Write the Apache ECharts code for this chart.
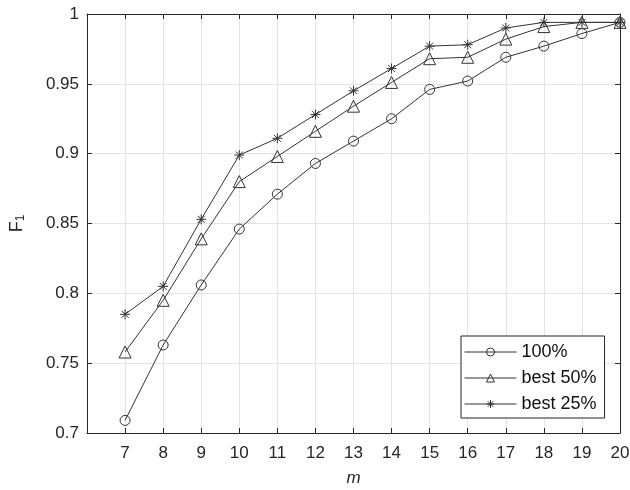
<!DOCTYPE html>
<html>
<head>
<meta charset="utf-8">
<script src="https://cdn.jsdelivr.net/npm/echarts@6/dist/echarts.min.js"></script>
<style>html,body{margin:0;padding:0;background:#fff}#c{width:630px;height:490px}</style>
</head>
<body>
<div id="c"></div>
<script>
var mValues = [7, 8, 9, 10, 11, 12, 13, 14, 15, 16, 17, 18, 19, 20];
var all100 = [0.709, 0.763, 0.806, 0.846, 0.871, 0.893, 0.909, 0.925, 0.946, 0.952, 0.969, 0.977, 0.986, 0.994];
var best50 = [0.758, 0.795, 0.839, 0.880, 0.898, 0.916, 0.934, 0.951, 0.968, 0.969, 0.982, 0.991, 0.994, 0.994];
var best25 = [0.785, 0.805, 0.853, 0.899, 0.911, 0.928, 0.945, 0.961, 0.977, 0.978, 0.990, 0.994, 0.994, 0.994];
var seriesNames = ['100%', 'best 50%', 'best 25%'];
var yTicks = [0.7, 0.75, 0.8, 0.85, 0.9, 0.95, 1];

function pairs(vals) { return mValues.map(function (m, i) { return [m, vals[i]]; }); }

var axisColor = '#262626';
var lineColor = '#333333';
var asterisk = 'path://M0,-10L0,10M-10,0L10,0M-7,-7L7,7M-7,7L7,-7';
var font = 'Liberation Sans, Arial, sans-serif';

function mkSeries(name, vals, symbol, size) {
  return {
    name: name, type: 'line', data: pairs(vals), xAxisIndex: 0, yAxisIndex: 0,
    symbol: symbol, symbolSize: size, showAllSymbol: true,
    lineStyle: { color: lineColor, width: 1 },
    itemStyle: { color: 'transparent', borderColor: lineColor, borderWidth: 1 },
    emphasis: { disabled: true }, animation: false
  };
}

var chart = echarts.init(document.getElementById('c'));
chart.setOption({
  animation: false,
  grid: { left: 87, right: 10, top: 14, bottom: 57, containLabel: false, outerBoundsMode: 'none' },
  xAxis: [{
    type: 'value', min: 6, max: 20, interval: 1, position: 'bottom',
    name: 'm', nameLocation: 'middle', nameGap: 37,
    nameTextStyle: { fontStyle: 'italic', fontSize: 17, color: axisColor, fontFamily: font },
    axisLine: { lineStyle: { color: axisColor, width: 1 } },
    axisTick: { inside: true, length: 5, lineStyle: { color: axisColor } },
    axisLabel: { fontSize: 17, color: axisColor, margin: 12, fontFamily: font,
      formatter: function (v) { return v === 6 ? '' : String(v); } },
    splitLine: { show: true, lineStyle: { color: '#e3e3e3', width: 1 } }
  }, {
    type: 'value', min: 6, max: 20, interval: 1, position: 'top',
    axisLine: { onZero: false, lineStyle: { color: axisColor, width: 1 } },
    axisTick: { inside: true, length: 5, lineStyle: { color: axisColor } },
    axisLabel: { show: false }, splitLine: { show: false }
  }],
  yAxis: [{
    type: 'value', min: 0.7, max: 1, interval: 0.05, position: 'left',
    name: '{f|F}{s|1}', nameLocation: 'middle', nameGap: 60, nameRotate: 90,
    nameTextStyle: { color: axisColor, fontFamily: font,
      rich: { f: { fontSize: 18, color: axisColor, fontFamily: font },
              s: { fontSize: 12, color: axisColor, fontFamily: font, padding: [8, 0, 0, 0] } } },
    axisLine: { lineStyle: { color: axisColor, width: 1 } },
    axisTick: { inside: true, length: 5, lineStyle: { color: axisColor } },
    axisLabel: { fontSize: 17, color: axisColor, margin: 8, fontFamily: font,
      formatter: function (v) { var r = Math.round(v * 100) / 100; return yTicks.indexOf(r) >= 0 ? String(r) : ''; } },
    splitLine: { show: true, lineStyle: { color: '#e3e3e3', width: 1 } }
  }, {
    type: 'value', min: 0.7, max: 1, interval: 0.05, position: 'right',
    axisLine: { show: true, onZero: false, lineStyle: { color: axisColor, width: 1 } },
    axisTick: { show: true, inside: true, length: 5, lineStyle: { color: axisColor } },
    axisLabel: { show: false }, splitLine: { show: false }
  }],
  legend: {
    orient: 'vertical', left: 461, top: 336,
    data: seriesNames,
    itemWidth: 52, itemHeight: 10, itemGap: 6,
    padding: [6, 8, 4, 3],
    lineStyle: { width: 1, color: lineColor },
    itemStyle: { color: 'transparent', borderColor: lineColor, borderWidth: 1 },
    backgroundColor: '#fff', borderColor: axisColor, borderWidth: 1, borderRadius: 0,
    textStyle: { fontSize: 18, color: '#111', fontFamily: font, lineHeight: 20 },
    selectedMode: false
  },
  series: [
    mkSeries(seriesNames[0], all100, 'circle', 10),
    mkSeries(seriesNames[1], best50, 'triangle', 12),
    mkSeries(seriesNames[2], best25, asterisk, 10)
  ]
});
</script>
</body>
</html>
